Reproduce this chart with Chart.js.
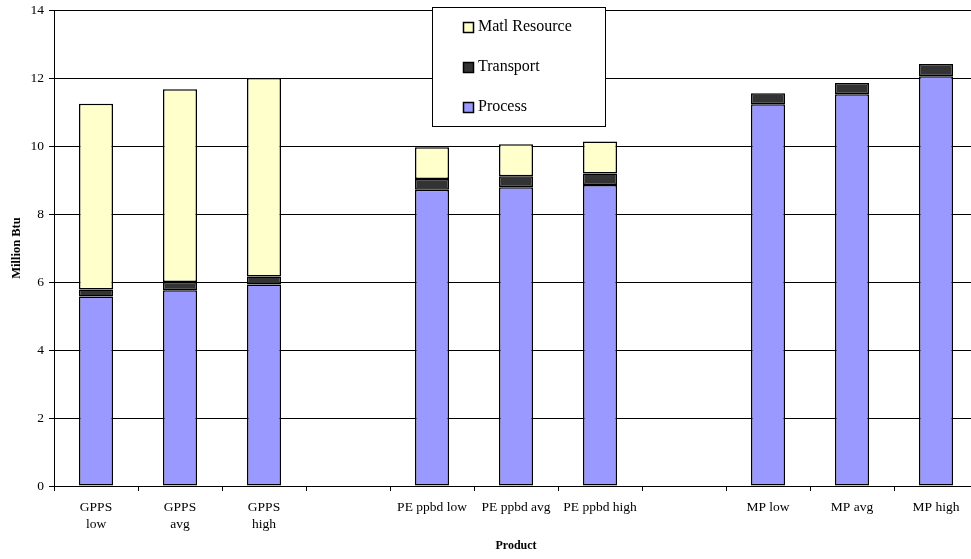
<!DOCTYPE html>
<html>
<head>
<meta charset="utf-8">
<script src="https://cdn.jsdelivr.net/npm/chart.js@4"></script>
<style>
    html, body { margin: 0; padding: 0; background: #fff; overflow: hidden; }
    #wrap { width: 990px; height: 559px; }
</style>
</head>
<body>
<div id="wrap"><canvas id="chart" width="990" height="559"></canvas></div>
<script>
const categories = [['GPPS', 'low'], ['GPPS', 'avg'], ['GPPS', 'high'], '', 'PE ppbd low', 'PE ppbd avg', 'PE ppbd high', '', 'MP low', 'MP avg', 'MP high'];
const processValues = [5.57, 5.76, 5.93, null, 8.71, 8.79, 8.85, null, 11.23, 11.52, 12.05];
const transportValues = [0.21, 0.24, 0.23, null, 0.32, 0.32, 0.34, null, 0.32, 0.33, 0.36];
const matlValues = [5.46, 5.67, 5.84, null, 0.93, 0.94, 0.94, null, 0, 0, 0];
const yTicks = [0, 2, 4, 6, 8, 10, 12, 14];

const serif = "'Liberation Serif', 'Times New Roman', serif";

// legend box sitting over the plot, like the Excel one
const boxLegend = {
    id: 'boxLegend',
    afterDraw(chart) {
        const ctx = chart.ctx;
        const x = 432.5, y = 7.5, w = 173, h = 119;
        ctx.save();
        ctx.fillStyle = '#fff';
        ctx.fillRect(x, y, w, h);
        ctx.strokeStyle = '#000';
        ctx.lineWidth = 1;
        ctx.strokeRect(x, y, w, h);
        const items = chart.data.datasets.slice().reverse();
        ctx.font = '16px ' + serif;
        ctx.textBaseline = 'middle';
        items.forEach((ds, i) => {
            const cy = 27 + i * 40;
            ctx.fillStyle = ds.backgroundColor;
            ctx.fillRect(463, cy - 5, 11, 11);
            ctx.lineWidth = 1.5;
            ctx.strokeRect(463.5, cy - 4.5, 10, 10);
            ctx.fillStyle = '#000';
            ctx.fillText(ds.label, 478, cy);
        });
        ctx.restore();
    }
};

const barStyle = { borderColor: '#000', borderWidth: 1.5, borderSkipped: false, categoryPercentage: 1, barPercentage: 0.405 };

new Chart(document.getElementById('chart'), {
    type: 'bar',
    data: {
        labels: categories,
        datasets: [
            { label: 'Process', data: processValues, backgroundColor: '#9999FF', ...barStyle },
            { label: 'Transport', data: transportValues, backgroundColor: '#333333', ...barStyle },
            { label: 'Matl Resource', data: matlValues, backgroundColor: '#FFFFCC', ...barStyle }
        ]
    },
    options: {
        responsive: false,
        animation: false,
        devicePixelRatio: 1,
        layout: { padding: { left: 0, top: 10, right: 12, bottom: 0 } },
        plugins: { legend: { display: false }, tooltip: { enabled: false } },
        scales: {
            x: {
                stacked: true,
                afterFit: s => { s.height = 73; },
                grid: { drawOnChartArea: false, drawTicks: true, tickLength: 5, color: '#000', offset: true },
                border: { display: true, color: '#000', width: 1 },
                ticks: { color: '#000', font: { family: serif, size: 13.5, lineHeight: 1.25 }, padding: 8, maxRotation: 0, autoSkip: false },
                title: { display: true, text: 'Product', color: '#000', font: { family: serif, size: 12, weight: 'bold' }, padding: { top: 0, bottom: 6 } }
            },
            y: {
                stacked: true,
                min: 0,
                max: 14,
                afterFit: s => { s.width = 54; s.paddingTop = 0; s.paddingBottom = 0; },
                afterBuildTicks: s => { s.ticks = yTicks.map(v => ({ value: v })); },
                grid: { color: '#000', tickLength: 5, drawTicks: true },
                border: { display: true, color: '#000', width: 1 },
                ticks: { color: '#000', font: { family: serif, size: 13.5 }, padding: 5 },
                title: { display: true, text: 'Million Btu', color: '#000', font: { family: serif, size: 12.5, weight: 'bold' }, padding: { top: 9, bottom: 0 } }
            }
        }
    },
    plugins: [boxLegend]
});
</script>
</body>
</html>
